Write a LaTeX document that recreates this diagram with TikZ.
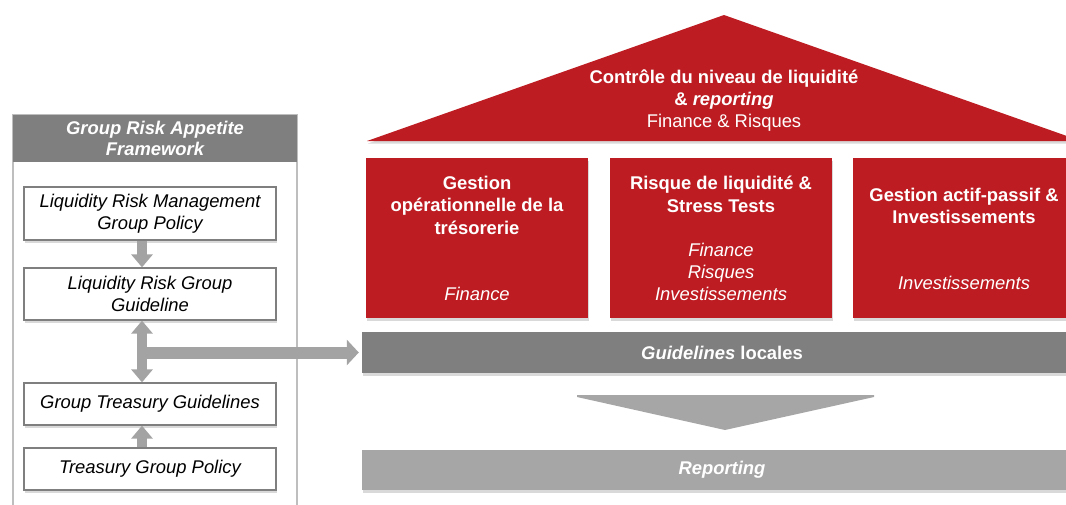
\documentclass[tikz,border=0pt]{standalone}
\usepackage{fontspec}
\setmainfont{Liberation Sans}
\usepackage{xcolor}
\usepackage{tikz}
\usetikzlibrary{arrows.meta,shadows}

\definecolor{roofred}{RGB}{189,29,34}
\definecolor{banddark}{RGB}{127,127,127}
\definecolor{bandlight}{RGB}{166,166,166}
\definecolor{arrowgray}{RGB}{163,163,163}
\definecolor{framegray}{RGB}{190,190,190}

\begin{document}
\begin{tikzpicture}[x=1pt,y=-1pt,
  font=\fontsize{18.4}{22}\selectfont,
  shade/.style={drop shadow={shadow xshift=1pt,shadow yshift=-2.5pt,opacity=.3}},
  policy/.style={draw=banddark,line width=1.3pt,fill=white,shade,minimum width=252pt,align=center,inner sep=0pt,font=\fontsize{18.4}{22}\selectfont\itshape},
  pillar/.style={fill=roofred,shade,minimum width=222pt,minimum height=160pt,inner sep=0pt},
  title/.style={text=white,align=center,font=\fontsize{18.4}{22.5}\selectfont\bfseries},
  who/.style={text=white,align=center,font=\fontsize{18.4}{22}\selectfont\itshape},
  band/.style={minimum width=720pt,inner sep=0pt,text=white,shade,font=\fontsize{18.4}{22}\selectfont\bfseries},
  grayarrow/.style={draw=arrowgray,line width=10pt,-{Triangle[length=13pt,width=21pt]}}]
\useasboundingbox (0,0) rectangle (1066,504);
\clip (0,0) rectangle (1066,504);
\def\roof{(367,141) -- (724,15) -- (1081,141) -- cycle}

% left panel
\draw[framegray,line width=1.5pt] (13,520) -- (13,115) -- (297,115) -- (297,520);
\node[fill=banddark,minimum width=284pt,minimum height=47pt,align=center,text=white,
  font=\fontsize{18.4}{21}\selectfont\bfseries\itshape] (gra) at (155,138.5) {Group Risk Appetite\\Framework};
\node[policy,minimum height=53pt] (lrm) at (150,213.5) {Liquidity Risk Management\\Group Policy};
\node[policy,minimum height=52pt] (lrg) at (150,294) {Liquidity Risk Group\\Guideline};
\node[policy,minimum height=42pt] (gtg) at (150,404) {Group Treasury Guidelines};
\node[policy,minimum height=42pt] (tgp) at (150,469) {Treasury Group Policy};

% roof
\fill[roofred,shade] \roof;
\node[text=white,align=center] (ctrl) at (724,101)
  {\textbf{Contrôle du niveau de liquidité}\\\textbf{\& \textit{reporting}}\\Finance \& Risques};

% pillars
\node[pillar] (pa) at (477,238) {};
\node[pillar] (pb) at (721,238) {};
\node[pillar] (pc) at (964,238) {};
\node[title] (ta) at (477,205) {Gestion\\opérationnelle de la\\trésorerie};
\node[who] (wa) at (477,294) {Finance};
\node[title] (tb) at (721,194.5) {Risque de liquidité \&\\Stress Tests};
\node[who] (wb) at (721,272) {Finance\\Risques\\Investissements};
\node[title] (tc) at (964,206) {Gestion actif-passif \&\\Investissements};
\node[who] (wc) at (964,283) {Investissements};

% bands
\node[band,fill=banddark,minimum height=41pt] (loc) at (722,352.5) {\textit{Guidelines} locales};
\fill[bandlight] (577,395) -- (874,395) -- (874,397) -- (725,430) -- (577,397) -- cycle;
\node[band,fill=bandlight,minimum height=40pt] (rep) at (722,470) {\textit{Reporting}};

% arrows
\draw[grayarrow] ([xshift=-8pt]lrm.south) -- ([xshift=-8pt]lrg.north);
\draw[grayarrow,{Triangle[length=13pt,width=21pt]}-{Triangle[length=13pt,width=21pt]}] ([xshift=-8pt]lrg.south) -- ([xshift=-8pt]gtg.north);
\draw[grayarrow] ([xshift=-8pt]tgp.north) -- ([xshift=-8pt]gtg.south);
\draw[grayarrow,line width=12pt,-{Triangle[length=12pt,width=25pt]},shorten >=3pt] ([xshift=-8pt]lrg.south |- loc.west) -- (loc.west);
\end{tikzpicture}
\end{document}
